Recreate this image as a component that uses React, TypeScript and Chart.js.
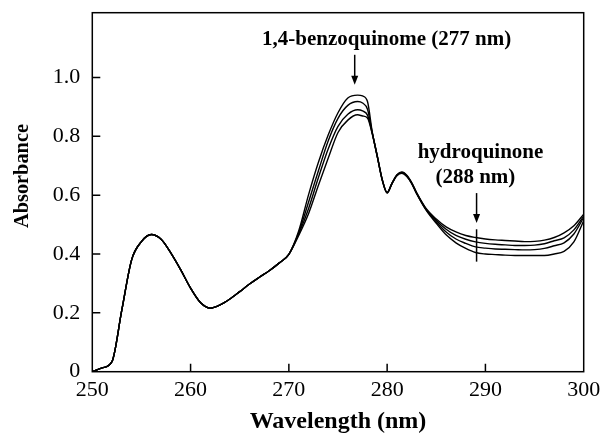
import React, { useEffect, useRef } from 'react';
import { Chart, registerables } from 'chart.js';

Chart.register(...registerables);

// Wavelength axis (nm)
const wavelength = [
  250, 251, 252, 253, 254, 255, 256, 257, 258, 259, 260, 261, 262, 263, 264, 265, 266, 267, 268, 269, 270,
  271, 272, 273, 274, 275, 276, 277, 277.5, 278,
  278.5, 279, 279.5, 280, 280.5, 281, 281.5, 282, 282.5, 283,
  284, 285, 286, 287, 288, 289, 290, 291, 292, 293, 294, 295, 296, 297, 298, 299, 300,
];

// Four absorbance scans
const scanA = [
  0, 0.013, 0.034, 0.209, 0.38, 0.442, 0.466, 0.45, 0.403, 0.346, 0.284, 0.235, 0.216, 0.227, 0.247, 0.272, 0.298, 0.321, 0.343, 0.369, 0.399,
  0.478, 0.601, 0.711, 0.804, 0.88, 0.93, 0.94, 0.937, 0.918,
  0.812, 0.733, 0.653, 0.609, 0.641, 0.669, 0.679, 0.668, 0.643, 0.609,
  0.553, 0.519, 0.492, 0.475, 0.463, 0.456, 0.451, 0.448, 0.446, 0.444, 0.442, 0.443, 0.447, 0.456, 0.472, 0.496, 0.535,
];
const scanB = [
  0, 0.013, 0.034, 0.209, 0.38, 0.442, 0.466, 0.45, 0.403, 0.346, 0.284, 0.235, 0.216, 0.227, 0.247, 0.272, 0.298, 0.321, 0.343, 0.369, 0.399,
  0.472, 0.576, 0.682, 0.784, 0.861, 0.905, 0.918, 0.913, 0.892,
  0.81, 0.732, 0.653, 0.609, 0.641, 0.669, 0.677, 0.666, 0.641, 0.607,
  0.551, 0.514, 0.484, 0.463, 0.45, 0.441, 0.436, 0.433, 0.431, 0.429, 0.429, 0.43, 0.435, 0.445, 0.455, 0.482, 0.529,
];
const scanC = [
  0, 0.013, 0.034, 0.209, 0.38, 0.442, 0.466, 0.45, 0.403, 0.346, 0.284, 0.235, 0.216, 0.227, 0.247, 0.272, 0.298, 0.321, 0.343, 0.369, 0.399,
  0.468, 0.554, 0.659, 0.757, 0.834, 0.875, 0.89, 0.886, 0.872,
  0.808, 0.731, 0.652, 0.608, 0.64, 0.668, 0.676, 0.665, 0.64, 0.606,
  0.549, 0.509, 0.475, 0.451, 0.436, 0.424, 0.42, 0.417, 0.416, 0.415, 0.414, 0.415, 0.419, 0.428, 0.438, 0.468, 0.524,
];
const scanD = [
  0, 0.013, 0.034, 0.209, 0.38, 0.442, 0.466, 0.45, 0.403, 0.346, 0.284, 0.235, 0.216, 0.227, 0.247, 0.272, 0.298, 0.321, 0.343, 0.369, 0.399,
  0.463, 0.537, 0.633, 0.725, 0.813, 0.855, 0.873, 0.869, 0.862,
  0.806, 0.73, 0.651, 0.607, 0.639, 0.666, 0.674, 0.663, 0.639, 0.605,
  0.547, 0.504, 0.465, 0.438, 0.419, 0.405, 0.4, 0.398, 0.396, 0.395, 0.395, 0.395, 0.395, 0.4, 0.409, 0.441, 0.513,
];

const xTickValues = [250, 260, 270, 280, 290, 300];
const yTickValues = [0, 0.2, 0.4, 0.6, 0.8, 1.0];

const SERIF = '"Liberation Serif", "Times New Roman", serif';

export default function App() {
  const ref = useRef<HTMLCanvasElement>(null);

  useEffect(() => {
    if (!ref.current) return;

    const framePlugin = {
      id: 'frameAndNotes',
      afterDatasetsDraw(chart: any) {
        const { ctx, chartArea, scales } = chart;
        const xs = scales.x;
        const ys = scales.y;
        const { left, right, top, bottom } = chartArea;
        ctx.save();
        ctx.strokeStyle = '#000';
        ctx.fillStyle = '#000';
        ctx.lineWidth = 1.5;
        ctx.strokeRect(left, top, right - left, bottom - top);

        // inward tick marks
        ctx.beginPath();
        yTickValues.forEach((v) => {
          if (v <= 0) return;
          const py = ys.getPixelForValue(v);
          ctx.moveTo(left, py);
          ctx.lineTo(left + 8, py);
        });
        xTickValues.forEach((v) => {
          if (v <= 250 || v >= 300) return;
          const px = xs.getPixelForValue(v);
          ctx.moveTo(px, bottom);
          ctx.lineTo(px, bottom - 8);
        });
        ctx.stroke();

        const arrow = (nm: number, from: number, to: number) => {
          const px = xs.getPixelForValue(nm);
          const y0 = ys.getPixelForValue(from);
          const y1 = ys.getPixelForValue(to);
          ctx.lineWidth = 1.5;
          ctx.beginPath();
          ctx.moveTo(px, y0);
          ctx.lineTo(px, y1 - 6);
          ctx.stroke();
          ctx.beginPath();
          ctx.moveTo(px, y1);
          ctx.lineTo(px - 3.5, y1 - 9);
          ctx.lineTo(px + 3.5, y1 - 9);
          ctx.closePath();
          ctx.fill();
        };

        ctx.font = `bold 21px ${SERIF}`;
        ctx.textAlign = 'center';
        ctx.textBaseline = 'alphabetic';
        ctx.fillText('1,4-benzoquinome (277 nm)', xs.getPixelForValue(279.95), ys.getPixelForValue(1.111));
        arrow(276.7, 1.077, 0.975);

        ctx.fillText('hydroquinone', xs.getPixelForValue(289.5), ys.getPixelForValue(0.726));
        ctx.fillText('(288 nm)', xs.getPixelForValue(288.98), ys.getPixelForValue(0.641));
        arrow(289.1, 0.607, 0.505);

        // marker line at 288 nm
        ctx.lineWidth = 1.5;
        ctx.beginPath();
        const mx = xs.getPixelForValue(289.1);
        ctx.moveTo(mx, ys.getPixelForValue(0.484));
        ctx.lineTo(mx, ys.getPixelForValue(0.374));
        ctx.stroke();

        // y axis title
        ctx.save();
        ctx.translate(22, ys.getPixelForValue(0.665));
        ctx.rotate(-Math.PI / 2);
        ctx.font = `bold 22px ${SERIF}`;
        ctx.textAlign = 'center';
        ctx.textBaseline = 'middle';
        ctx.fillText('Absorbance', 0, 0, 104);
        ctx.restore();

        ctx.restore();
      },
    };

    const series = [scanA, scanB, scanC, scanD];
    const chart = new Chart(ref.current, {
      type: 'line',
      data: {
        datasets: series.map((s, k) => ({
          label: `scan ${k + 1}`,
          data: wavelength.map((x, i) => ({ x, y: s[i] })),
          borderColor: '#000',
          borderWidth: 1.4,
          pointRadius: 0,
          fill: false,
          cubicInterpolationMode: 'monotone' as const,
        })),
      },
      options: {
        animation: false,
        responsive: true,
        maintainAspectRatio: false,
        layout: { padding: { left: 0, top: 12.7, right: 17.3, bottom: 0 } },
        plugins: {
          legend: { display: false },
          tooltip: { enabled: false },
        },
        scales: {
          x: {
            type: 'linear',
            min: 250,
            max: 300,
            grid: { display: false, drawTicks: false },
            border: { display: false },
            ticks: {
              stepSize: 10,
              autoSkip: false,
              maxRotation: 0,
              padding: 5,
              color: '#000',
              font: { family: SERIF, size: 22 },
              callback: (v: any) => String(v),
            },
            title: {
              display: true,
              text: 'Wavelength (nm)',
              color: '#000',
              font: { family: SERIF, size: 24, weight: 'bold' },
              padding: { top: 0, bottom: -2 },
            },
            afterFit: (s: any) => {
              s.height = 62.3;
              s.paddingLeft = 0;
              s.paddingRight = 0;
            },
          },
          y: {
            type: 'linear',
            min: 0,
            max: 1.22,
            grid: { display: false, drawTicks: false },
            border: { display: false },
            ticks: {
              stepSize: 0.2,
              includeBounds: false,
              padding: 12,
              color: '#000',
              font: { family: SERIF, size: 22 },
              callback: (v: any) => {
                const n = Number(v);
                if (n > 1.05) return '';
                if (Math.abs(n) < 1e-9) return '0';
                return n.toFixed(1);
              },
            },
            afterFit: (s: any) => {
              s.width = 92.3;
              s.paddingTop = 0;
              s.paddingBottom = 0;
            },
          },
        },
      } as any,
      plugins: [framePlugin],
    });

    return () => chart.destroy();
  }, []);

  return (
    <div style={{ position: 'fixed', left: 0, top: 0, width: 601, height: 434, background: '#fff' }}>
      <canvas ref={ref} />
    </div>
  );
}
